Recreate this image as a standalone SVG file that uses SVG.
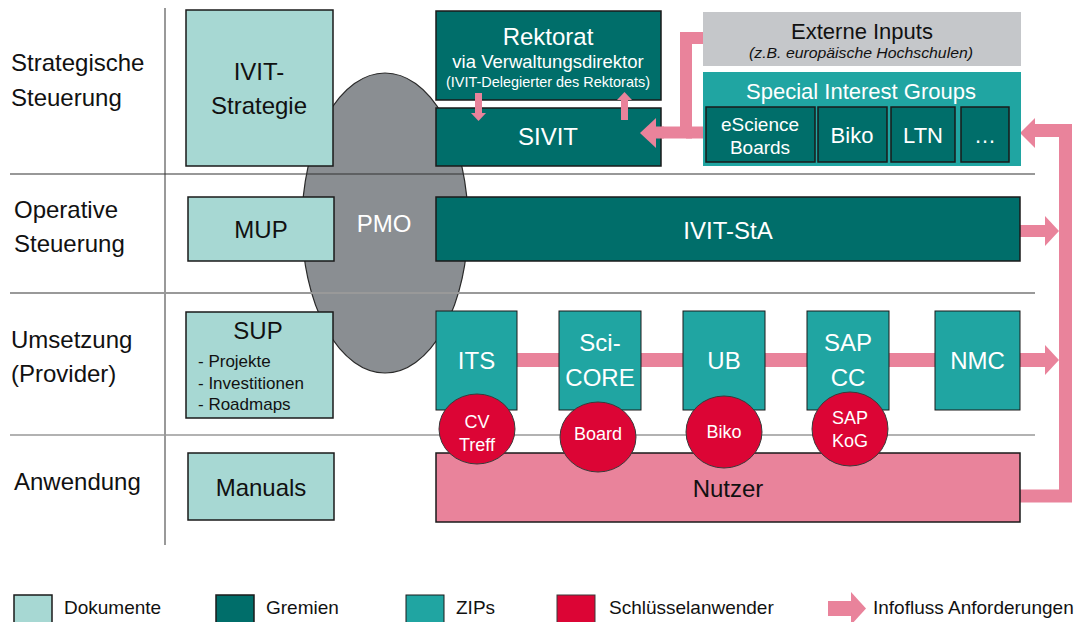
<svg xmlns="http://www.w3.org/2000/svg" width="1084" height="622" viewBox="0 0 1084 622">
<style>
text{font-family:"Liberation Sans",Arial,sans-serif;}
.doc{fill:#a7d8d3;stroke:#1a1a1a;stroke-width:1.5}
.grm{fill:#006e6a;stroke:#1a1a1a;stroke-width:1.5}
.zip{fill:#20a5a2;stroke:#1a1a1a;stroke-width:1}
.key{fill:#dc0535;stroke:#3a3a3a;stroke-width:1}
.pinkf{fill:#e9839b}
.pinks{fill:none;stroke:#e9839b;stroke-linejoin:miter;stroke-linecap:butt}
.lbl{font-size:24px;fill:#111}
.w{fill:#fff;text-anchor:middle}
.b{fill:#111;text-anchor:middle}
.leg{font-size:19px;fill:#111}
</style>

<!-- PMO -->
<g id="pmo">
<ellipse cx="385" cy="223" rx="83" ry="150" fill="#8a8e92" stroke="#2a2a2a" stroke-width="1.2"/>
<text class="w" x="384" y="232" font-size="24">PMO</text>
</g>

<!-- grid -->
<g id="grid">
<line x1="165" y1="8" x2="165" y2="545" stroke="#555" stroke-width="1.2"/>
<line x1="10" y1="174" x2="1035" y2="174" stroke="#333" stroke-width="1.2"/>
<line x1="10" y1="293" x2="1035" y2="293" stroke="#999" stroke-width="2"/>
<line x1="10" y1="435" x2="1035" y2="435" stroke="#999" stroke-width="1.5"/>
</g>

<!-- row labels -->
<g id="rowlabels">
<text class="lbl" x="11" y="71">Strategische</text>
<text class="lbl" x="11" y="106">Steuerung</text>
<text class="lbl" x="14" y="218">Operative</text>
<text class="lbl" x="14" y="252">Steuerung</text>
<text class="lbl" x="11" y="348">Umsetzung</text>
<text class="lbl" x="11" y="382">(Provider)</text>
<text class="lbl" x="14" y="490">Anwendung</text>
</g>

<!-- connectors -->
<g id="connectors">
<!-- Umsetzung flow bar -->
<line class="pinks" x1="480" y1="360" x2="1046" y2="360" stroke-width="14"/>
<polygon class="pinkf" points="1045,345 1059,360 1045,375"/>
<!-- IVIT-StA arrow -->
<line class="pinks" x1="1019" y1="231" x2="1046" y2="231" stroke-width="12"/>
<polygon class="pinkf" points="1045,216 1059,231 1045,246"/>
<!-- feedback loop Nutzer -> SIG -->
<polyline class="pinks" points="1019,496 1065.5,496 1065.5,130.5 1034,130.5" stroke-width="13"/>
<polygon class="pinkf" points="1035,118 1020,133 1035,148"/>
<!-- Externe / SIG -> SIVIT (shaft) -->
<polyline class="pinks" points="704,38 686,38 686,132.5 662,132.5" stroke-width="12"/>
<line class="pinks" x1="686" y1="132.5" x2="704" y2="132.5" stroke-width="12"/>
</g>

<!-- Strategic row -->
<g id="ivit-strategie">
<rect class="doc" x="186" y="10" width="147" height="156"/>
<text class="b" x="259" y="80" font-size="24">IVIT-</text>
<text class="b" x="259" y="114" font-size="24">Strategie</text>
</g>

<g id="rektorat">
<rect class="grm" x="436" y="11" width="225" height="89"/>
<text class="w" x="548" y="45" font-size="24">Rektorat</text>
<text class="w" x="548" y="68" font-size="18.5">via Verwaltungsdirektor</text>
<text class="w" x="548" y="87" font-size="14.5" textLength="204" lengthAdjust="spacingAndGlyphs">(IVIT-Delegierter des Rektorats)</text>
</g>

<g id="sivit">
<rect class="grm" x="436" y="108" width="225" height="58"/>
<text class="w" x="548" y="145" font-size="24">SIVIT</text>
</g>

<g id="rektorat-sivit-arrows">
<rect class="pinkf" x="475" y="93" width="7" height="21"/>
<polygon class="pinkf" points="471,113 486,113 478.5,121"/>
<rect class="pinkf" x="621" y="99" width="7" height="21"/>
<polygon class="pinkf" points="617,100 632,100 624.5,92"/>
</g>

<g id="sivit-inbound-head">
<rect class="pinkf" x="654" y="126.5" width="10" height="12"/>
<polygon class="pinkf" points="656,118 640,133 656,148"/>
</g>

<g id="externe">
<rect x="703" y="12" width="318" height="54" fill="#c5c7ca"/>
<text class="b" x="862" y="39" font-size="22">Externe Inputs</text>
<text class="b" x="861" y="58" font-size="14.5" font-style="italic" textLength="224" lengthAdjust="spacingAndGlyphs">(z.B. europäische Hochschulen)</text>
</g>

<g id="sig">
<rect x="703" y="72" width="318" height="94" fill="#20a5a2"/>
<text class="w" x="861" y="99" font-size="22">Special Interest Groups</text>
<rect class="grm" x="706" y="107" width="109" height="55"/>
<text class="w" x="760" y="131" font-size="19">eScience</text>
<text class="w" x="760" y="154" font-size="19">Boards</text>
<rect class="grm" x="818" y="107" width="69" height="55"/>
<text class="w" x="852" y="143" font-size="22">Biko</text>
<rect class="grm" x="891" y="107" width="64" height="55"/>
<text class="w" x="923" y="143" font-size="22">LTN</text>
<rect class="grm" x="961" y="107" width="48" height="55"/>
<text class="w" x="985" y="143" font-size="22">…</text>
</g>

<!-- Operative row -->
<g id="mup">
<rect class="doc" x="188" y="197" width="146" height="64"/>
<text class="b" x="261" y="238" font-size="24">MUP</text>
</g>
<g id="ivit-sta">
<rect class="grm" x="436" y="197" width="584" height="64"/>
<text class="w" x="728" y="239" font-size="24">IVIT-StA</text>
</g>

<!-- Umsetzung row -->
<g id="sup">
<rect class="doc" x="186" y="312" width="147" height="106"/>
<text class="b" x="258" y="339" font-size="24">SUP</text>
<text x="198" y="367" font-size="17" fill="#111">- Projekte</text>
<text x="198" y="389" font-size="17" fill="#111">- Investitionen</text>
<text x="198" y="410" font-size="17" fill="#111">- Roadmaps</text>
</g>

<g id="its">
<rect class="zip" x="436" y="311" width="81" height="99"/>
<text class="w" x="476.5" y="369" font-size="24">ITS</text>
</g>
<g id="scicore">
<rect class="zip" x="559" y="311" width="82" height="99"/>
<text class="w" x="600" y="351" font-size="24">Sci-</text>
<text class="w" x="600" y="386" font-size="24">CORE</text>
</g>
<g id="ub">
<rect class="zip" x="683" y="311" width="82" height="99"/>
<text class="w" x="724" y="369" font-size="24">UB</text>
</g>
<g id="sapcc">
<rect class="zip" x="807" y="311" width="82" height="99"/>
<text class="w" x="848" y="351" font-size="24">SAP</text>
<text class="w" x="848" y="386" font-size="24">CC</text>
</g>
<g id="nmc">
<rect class="zip" x="935" y="311" width="85" height="99"/>
<text class="w" x="977.5" y="369" font-size="24">NMC</text>
</g>

<!-- Anwendung row -->
<g id="manuals">
<rect class="doc" x="188" y="453" width="146" height="67"/>
<text class="b" x="261" y="496" font-size="24">Manuals</text>
</g>
<g id="nutzer">
<rect x="436" y="453" width="584" height="69" fill="#e9839b" stroke="#1a1a1a" stroke-width="1.5"/>
<text class="b" x="728" y="497" font-size="24">Nutzer</text>
</g>

<!-- key users -->
<g id="cvtreff">
<ellipse class="key" cx="477" cy="429" rx="38" ry="35"/>
<text class="w" x="477" y="428" font-size="18">CV</text>
<text class="w" x="477" y="451" font-size="18">Treff</text>
</g>
<g id="board">
<ellipse class="key" cx="598" cy="437" rx="38" ry="35"/>
<text class="w" x="598" y="440" font-size="18">Board</text>
</g>
<g id="biko">
<ellipse class="key" cx="724" cy="432" rx="38" ry="36"/>
<text class="w" x="724" y="438" font-size="18">Biko</text>
</g>
<g id="sapkog">
<ellipse class="key" cx="850" cy="429" rx="38" ry="37"/>
<text class="w" x="850" y="424" font-size="18">SAP</text>
<text class="w" x="850" y="447" font-size="18">KoG</text>
</g>

<!-- legend -->
<g id="legend">
<rect class="doc" x="14" y="595" width="38" height="30"/>
<text class="leg" x="64" y="614">Dokumente</text>
<rect class="grm" x="216" y="595" width="38" height="30"/>
<text class="leg" x="266" y="614">Gremien</text>
<rect class="zip" x="406" y="595" width="38" height="30"/>
<text class="leg" x="456" y="614">ZIPs</text>
<rect class="key" x="557" y="595" width="38" height="30"/>
<text class="leg" x="609" y="614">Schlüsselanwender</text>
<rect class="pinkf" x="828" y="601" width="24" height="15"/>
<polygon class="pinkf" points="851,592 866,608.5 851,625"/>
<text class="leg" x="873" y="614">Infofluss Anforderungen</text>
</g>
</svg>
